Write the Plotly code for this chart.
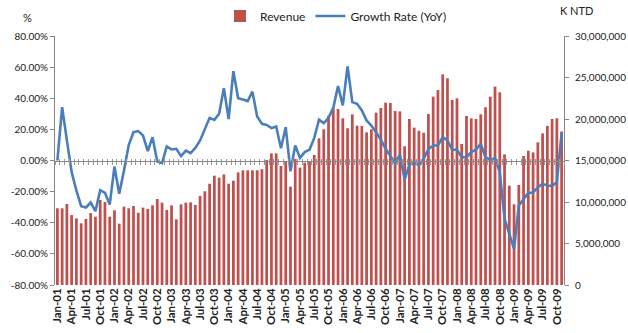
import plotly.graph_objects as go

# ---- data ----
years = ["01", "02", "03", "04", "05", "06", "07", "08", "09"]
month_names = ["Jan", "Feb", "Mar", "Apr", "May", "Jun",
               "Jul", "Aug", "Sep", "Oct", "Nov", "Dec"]
months = [f"{m}-{y}" for y in years for m in month_names][:107]  # Jan-01 .. Nov-09

# Revenue, million NTD
revenue_m = [
    9.24, 9.24, 9.76, 8.43, 8.03, 7.43, 7.95, 8.67, 8.23, 10.24, 10.0, 8.23,
    9.0, 7.39, 9.44, 9.24, 9.52, 8.71, 9.32, 9.16, 9.6, 10.36, 9.92, 9.04,
    9.6, 7.91, 9.72, 9.92, 9.96, 9.64, 10.72, 11.29, 12.2, 13.17, 12.93, 13.33,
    12.2, 12.57, 13.57, 13.82, 13.82, 13.82, 13.82, 13.94, 15.06, 15.86, 15.86, 14.34,
    14.86, 11.85, 15.18, 14.14, 14.74, 14.86, 15.66, 17.67, 18.76, 20.4, 21.29, 21.2,
    20.08, 18.88, 20.56, 19.2, 19.16, 18.39, 18.76, 20.76, 21.33, 21.97, 21.93, 20.96,
    20.92, 16.71, 20.0, 18.96, 18.59, 18.35, 20.6, 22.69, 23.49, 25.38, 24.9, 22.29,
    22.49, 16.99, 20.36, 20.08, 20.0, 20.56, 21.41, 22.69, 23.9, 23.21, 15.74, 11.97,
    9.72, 12.05, 15.54, 16.18, 15.98, 17.19, 18.27, 19.16, 20.0, 20.08, 18.5,
]
revenue = [v * 1_000_000 for v in revenue_m]

# Growth rate YoY, %
growth = [
    0.0, 34.3, 12.9, -7.5, -19.3, -29.4, -30.2, -27.0, -32.6, -19.1, -20.8, -28.3,
    -3.9, -21.4, -6.4, 9.9, 18.2, 18.9, 16.1, 6.0, 15.0, -0.6, -1.7, 9.0,
    7.1, 7.5, 2.8, 6.4, 4.7, 8.1, 12.9, 19.7, 27.4, 26.1, 30.0, 46.5,
    26.6, 57.4, 40.0, 39.2, 38.2, 44.2, 28.3, 23.6, 22.9, 20.8, 21.9, 7.9,
    21.4, -6.9, 9.6, 1.7, 5.4, 6.9, 14.5, 26.2, 24.0, 27.4, 33.9, 47.8,
    35.4, 60.5, 37.5, 36.4, 32.2, 25.7, 22.5, 18.2, 13.3, 7.5, 2.6, -1.7,
    3.7, -12.2, -2.6, -1.7, -2.8, 1.1, 7.5, 9.6, 9.6, 15.0, 12.9, 6.9,
    6.9, 2.1, 2.1, 5.3, 7.1, 10.7, 2.1, 0.4, 1.5, -7.5, -37.5, -47.1,
    -56.8, -28.9, -24.6, -20.8, -20.6, -17.2, -15.0, -16.1, -16.3, -14.0, 17.8,
]

tick_labels = months[::3]
pct_ticks = [-80, -60, -40, -20, 0, 20, 40, 60, 80]
pct_labels = [f"{v:.2f}%" for v in pct_ticks]
rev_ticks = [0, 5_000_000, 10_000_000, 15_000_000, 20_000_000, 25_000_000, 30_000_000]

# ---- styles ----
FONT = "Lato, Liberation Sans, Arial, sans-serif"
AXIS_GRAY = "#868686"
TICK_GRAY = "#9a9a9a"
BAR_RED = "#C0504D"
LINE_BLUE = "#4A7EBB"
n = len(months)

fig = go.Figure()
fig.add_trace(go.Bar(
    x=months, y=revenue, name="Revenue", marker=dict(color=BAR_RED, line=dict(width=0)),
    xaxis="x", yaxis="y",
))
# invisible helpers so the category-boundary tick axes on the 0% line get drawn
for ax in ("x2", "x3"):
    fig.add_trace(go.Scatter(
        x=[-0.5, n - 0.5], y=[0, 0], mode="lines", line=dict(width=0, color="rgba(0,0,0,0)"),
        hoverinfo="skip", showlegend=False, xaxis=ax, yaxis="y2",
    ))
fig.add_trace(go.Scatter(
    x=months, y=growth, name="Growth Rate (YoY)", mode="lines",
    line=dict(color=LINE_BLUE, width=2.6), xaxis="x", yaxis="y2",
))

zero_axis_common = dict(
    overlaying="x", anchor="free", position=0.5, type="linear",
    range=[-0.5, n - 0.5], showgrid=False, zeroline=False,
    showline=True, linecolor=AXIS_GRAY, linewidth=1,
    tickmode="linear", tick0=-0.5, dtick=1,
    tickcolor=TICK_GRAY, tickwidth=1, showticklabels=False, automargin=False,
)

fig.update_layout(
    width=628, height=333,
    margin=dict(l=55, r=64, t=36, b=48, autoexpand=False),
    paper_bgcolor="white", plot_bgcolor="white",
    font=dict(family=FONT, size=10, color="#222222"),
    bargap=0.42,
    showlegend=True,
    legend=dict(
        orientation="h", xref="container", yref="container",
        x=220 / 628, y=1 - 16 / 333, xanchor="left", yanchor="middle",
        font=dict(family=FONT, size=12, color="#222222"),
        itemwidth=30, bgcolor="rgba(0,0,0,0)",
    ),
    xaxis=dict(
        type="category", range=[-0.5, n - 0.5], automargin=False,
        tickmode="array", tickvals=tick_labels, ticktext=tick_labels,
        tickangle=-90, ticks="", showline=False, showgrid=False, zeroline=False,
        tickfont=dict(family=FONT, size=11.5, color="#222222", weight="bold"),
    ),
    xaxis2=dict(ticks="outside", ticklen=3, **zero_axis_common),
    xaxis3=dict(ticks="inside", ticklen=2, **zero_axis_common),
    yaxis=dict(
        side="right", range=[0, 30_000_000], tickvals=rev_ticks, tickformat=",d",
        showline=True, linecolor=AXIS_GRAY, linewidth=1, ticks="outside",
        ticklen=4, tickcolor=AXIS_GRAY, showgrid=False, zeroline=False,
        tickfont=dict(family=FONT, size=10, color="#222222"),
        ticklabelstandoff=4, automargin=False,
    ),
    yaxis2=dict(
        side="left", overlaying="y", range=[-80, 80],
        tickmode="array", tickvals=pct_ticks, ticktext=pct_labels,
        showline=True, linecolor=AXIS_GRAY, linewidth=1, ticks="outside",
        ticklen=4, tickcolor=AXIS_GRAY, showgrid=False, zeroline=False,
        tickfont=dict(family=FONT, size=10, color="#222222"), automargin=False,
    ),
    annotations=[
        dict(text="%", xref="paper", yref="paper", x=-0.055, y=1.0, yshift=19,
             xanchor="center", yanchor="middle", showarrow=False,
             font=dict(family=FONT, size=11, color="#222222")),
        dict(text="K NTD", xref="paper", yref="paper", x=1.0, y=1.0, xshift=-6,
             yshift=26, xanchor="left", yanchor="middle", showarrow=False,
             font=dict(family=FONT, size=11, color="#222222")),
    ],
)

fig.write_html("out.html")
